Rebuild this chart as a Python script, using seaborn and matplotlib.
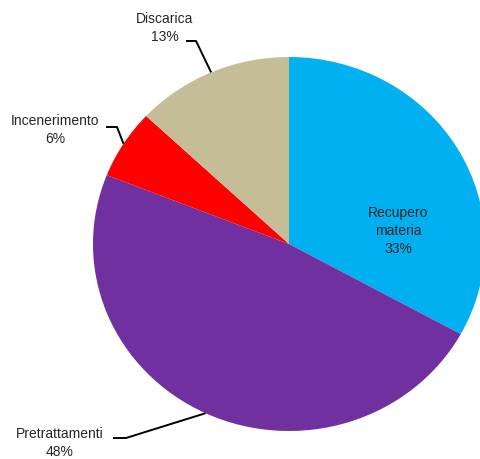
import numpy as np
import matplotlib
matplotlib.use("Agg")
import matplotlib.pyplot as plt
import seaborn as sns

# data
labels = ["Recupero\nmateria", "Pretrattamenti", "Incenerimento", "Discarica"]
values = [33, 48, 6, 13]
colors = ["#00B0F0", "#7030A0", "#FF0000", "#C4BD97"]

sns.set_theme(style="white")
plt.rcParams['font.family'] = ['Liberation Sans', 'DejaVu Sans']

W, H = 480, 459
cx, cy = 289, 244          # pie centre in pixels (from top-left)
rx, ry = 196, 187          # slightly squashed, like the original


def px(x, y):
    # pixel position -> axes data coordinates (unit pie radius)
    return (x - cx) / rx, (cy - y) / ry


fig = plt.figure(figsize=(W / 100, H / 100), dpi=100)
ax = fig.add_axes([0, 0, 1, 1])
ax.pie(values, colors=colors, startangle=90, counterclock=False,
       radius=1, wedgeprops=dict(linewidth=0))
ax.set_aspect('auto')
ax.set_xlim(-cx / rx, (W - cx) / rx)
ax.set_ylim(-(H - cy) / ry, cy / ry)
ax.axis('off')

# mid angles of each wedge, going clockwise from the top
ends = 90 - np.cumsum(values) / sum(values) * 360
mids = ends + np.array(values) / sum(values) * 180

fs = 10
ls = 1.35
# inside label
x, y = px(398, 231)
ax.text(x, y, f"{labels[0]}\n{values[0]}%", ha='center', va='center',
        fontsize=fs, linespacing=ls)

# outside labels: (text centre, elbow start, elbow end) in pixels
outside = {
    1: ((60, 443), (113, 438), (126, 438)),
    2: ((55, 130), (106, 127), (117, 127)),
    3: ((165, 28), (186, 41), (196, 41)),
}
for i, (tc, e0, e1) in outside.items():
    x, y = px(*tc)
    ax.text(x, y, f"{labels[i]}\n{values[i]}%", ha='center', va='center',
            fontsize=fs, linespacing=ls)
    a = np.deg2rad(mids[i])
    p0, p1 = px(*e0), px(*e1)
    ax.plot([p0[0], p1[0], np.cos(a)], [p0[1], p1[1], np.sin(a)],
            color='black', lw=1.4, solid_capstyle='butt')

fig.savefig("out.png", dpi=100)
